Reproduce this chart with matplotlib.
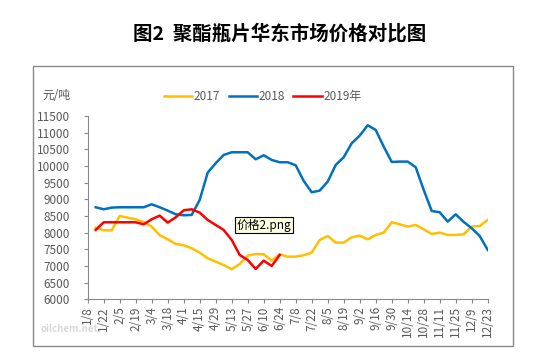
import pandas as pd
import numpy as np
import matplotlib
matplotlib.use("Agg")
import matplotlib.pyplot as plt
from matplotlib.patches import Rectangle

plt.rcParams['font.family'] = ['Noto Sans CJK SC', 'DejaVu Sans']

# weekly dates on a common (leap) year axis
dates = pd.date_range("2020-01-15", "2020-12-23", freq="7D")

p2017 = [8150, 8070, 8070, 8500, 8450, 8400, 8320, 8180, 7920, 7800,
         7660, 7620, 7530, 7400, 7230, 7130, 7030, 6900, 7060, 7310,
         7360, 7350, 7160, 7350, 7280, 7280, 7320, 7400, 7780, 7900,
         7700, 7700, 7860, 7910, 7800, 7930, 8000, 8310, 8250, 8180,
         8230, 8100, 7960, 8000, 7930, 7930, 7950, 8180, 8200, 8380]

p2018 = [8760, 8700, 8750, 8760, 8760, 8760, 8760, 8850, 8760, 8660,
         8550, 8520, 8530, 8980, 9800, 10080, 10330, 10410, 10410, 10410,
         10200, 10320, 10180, 10110, 10110, 10020, 9550, 9210, 9260, 9530,
         10030, 10260, 10680, 10910, 11220, 11080, 10580, 10120, 10130, 10130,
         9960, 9280, 8650, 8610, 8330, 8550, 8320, 8130, 7900, 7480]

p2019 = [8080, 8310, 8310, 8310, 8310, 8310, 8250, 8400, 8510, 8300,
         8460, 8670, 8700, 8600, 8380, 8230, 8080, 7780, 7330, 7180,
         6910, 7160, 7000, 7330]

tick_dates = pd.date_range("2020-01-08", "2020-12-23", freq="14D")
tick_labels = ['1/8', '1/22', '2/5', '2/19', '3/4', '3/18', '4/1', '4/15',
               '4/29', '5/13', '5/27', '6/10', '6/24', '7/8', '7/22', '8/5',
               '8/19', '9/2', '9/16', '9/30', '10/14', '10/28', '11/11',
               '11/25', '12/9', '12/23']

gray = '#595959'

fig = plt.figure(figsize=(5.48, 3.6), dpi=100)
ax = fig.add_axes([0.160, 0.1686, 0.730, 0.5094])

ax.plot(dates, p2017, color='#FFC000', lw=1.8, label='2017')
ax.plot(dates, p2018, color='#0070C0', lw=1.8, label='2018')
ax.plot(dates[:len(p2019)], p2019, color='#FF0000', lw=1.8, label='2019年')

ax.set_xlim(tick_dates[0], tick_dates[-1])
ax.set_ylim(6000, 11500)
ax.set_yticks(np.arange(6000, 11501, 500))
ax.set_xticks(tick_dates)
ax.set_xticklabels(tick_labels, rotation=90)

for s in ['top', 'right']:
    ax.spines[s].set_visible(False)
for s in ['left', 'bottom']:
    ax.spines[s].set_color('#898989')
    ax.spines[s].set_linewidth(0.8)
ax.tick_params(axis='both', colors='#898989', labelcolor=gray, labelsize=8.5,
               length=3, width=0.8, direction='out')
ax.tick_params(axis='x', pad=2)
ax.tick_params(axis='y', pad=10)

# frame around the chart
fig.patches.append(Rectangle((0.0608, 0.0389), 0.876, 0.7786,
                             transform=fig.transFigure, fill=False,
                             edgecolor='#898989', lw=1))

fig.text(0.511, 0.907, '图2  聚酯瓶片华东市场价格对比图', ha='center', va='center',
         fontsize=14, fontweight='bold')
fig.text(0.078, 0.736, '元/吨', ha='left', va='center', fontsize=8.5, color=gray)

leg = ax.legend(loc='center left', bbox_to_anchor=(0.299, 0.7306),
                bbox_transform=fig.transFigure, ncol=3, frameon=False,
                fontsize=8.5, handlelength=2.4, handletextpad=0.15,
                columnspacing=0.7, borderpad=0, borderaxespad=0)
for t in leg.get_texts():
    t.set_color(gray)

# watermark
fig.text(0.075, 0.085, 'oilchem.net', fontsize=7, color='#d9d9d9',
         fontweight='bold', ha='left', va='center')

# tooltip box
fig.text(0.432, 0.375, '价格2.png', fontsize=8.5, ha='left', va='center',
         bbox=dict(boxstyle='square,pad=0.15', facecolor='#FFFFE1',
                   edgecolor='black', lw=0.8))

fig.savefig('out.png', dpi=100)
